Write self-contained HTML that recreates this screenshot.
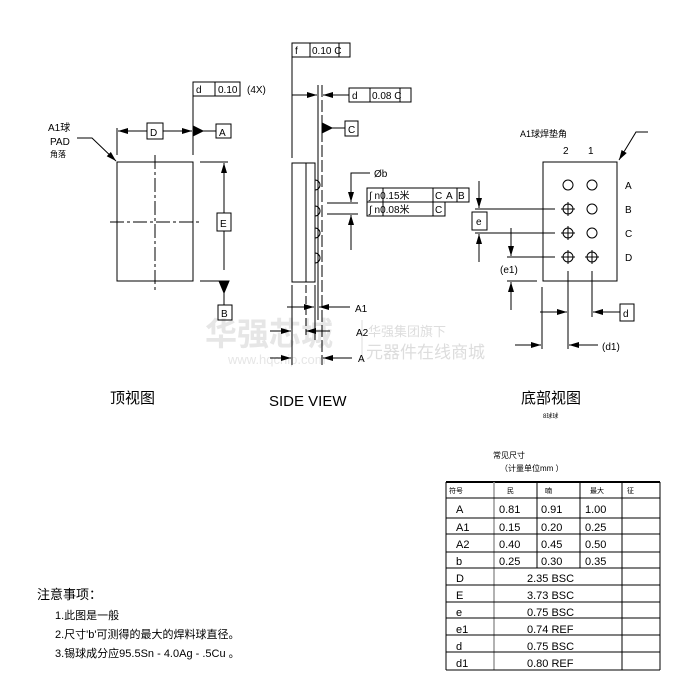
<!DOCTYPE html>
<html><head><meta charset="utf-8"><style>
body{margin:0;background:#fff;}
svg{display:block;font-family:"Liberation Sans","Noto Sans CJK SC",sans-serif;}
</style></head><body>
<svg width="693" height="685" viewBox="0 0 693 685" xmlns="http://www.w3.org/2000/svg">
<defs>
<marker id="ar" viewBox="0 0 10 6" refX="10" refY="3" markerWidth="10" markerHeight="6" orient="auto" markerUnits="userSpaceOnUse"><path d="M0,0L10,3L0,6z" fill="#000"/></marker>
</defs>
<g stroke="#000" stroke-width="1" fill="none">
<!-- watermark -->
<text x="205" y="345" font-size="32" font-weight="bold" fill="#e6e6e6" stroke="none">华强芯城</text>
<text x="228" y="364" font-size="13" fill="#e6e6e6" stroke="none">www.hqchip.com</text>
<line x1="362" y1="320" x2="362" y2="362" stroke="#ddd"/>
<text x="368" y="336" font-size="13" fill="#ddd" stroke="none">华强集团旗下</text>
<text x="366" y="358" font-size="17" fill="#ddd" stroke="none">元器件在线商城</text>

<!-- TOP VIEW -->
<rect x="117" y="162" width="76" height="119"/>
<line x1="155" y1="155" x2="155" y2="290" stroke-dasharray="14,3,3,3"/>
<line x1="110" y1="222" x2="200" y2="222" stroke-dasharray="14,3,3,3"/>
<line x1="117" y1="128" x2="117" y2="155"/>
<line x1="193" y1="82" x2="193" y2="155"/>
<line x1="147" y1="131" x2="118" y2="131" marker-end="url(#ar)"/>
<line x1="163" y1="131" x2="192" y2="131" marker-end="url(#ar)"/>
<rect x="147" y="123" width="16" height="16"/>
<path d="M193,126L203,131L193,136z" fill="#000"/>
<line x1="203" y1="131" x2="216" y2="131"/>
<rect x="216" y="124" width="15" height="14"/>
<rect x="193" y="82" width="47" height="14"/><line x1="215" y1="82" x2="215" y2="96"/>
<line x1="200" y1="162" x2="228" y2="162"/><line x1="200" y1="281" x2="228" y2="281"/>
<line x1="224" y1="213" x2="224" y2="163" marker-end="url(#ar)"/>
<line x1="224" y1="231" x2="224" y2="270"/>
<path d="M219,281L229,281L224,293z" fill="#000"/>
<line x1="224" y1="281" x2="224" y2="305"/>
<rect x="217" y="213" width="14" height="18"/>
<rect x="218" y="305" width="14" height="15"/>
<polyline points="77,138 92,138 116,161" marker-end="url(#ar)"/>

<!-- SIDE VIEW -->
<rect x="292" y="163" width="23" height="119"/>
<line x1="306" y1="163" x2="306" y2="282"/>
<path d="M315,180a5,5 0 0 1 0,10M315,206a5,5 0 0 1 0,10M315,228a5,5 0 0 1 0,10M315,253a5,5 0 0 1 0,10"/>
<line x1="292" y1="44" x2="292" y2="158"/>
<line x1="318" y1="85" x2="318" y2="320"/>
<line x1="322" y1="85" x2="322" y2="365" stroke-dasharray="12,3"/>
<rect x="292" y="43" width="58" height="14"/><line x1="310" y1="43" x2="310" y2="57"/><line x1="339" y1="43" x2="339" y2="57"/>
<rect x="349" y="88" width="62" height="14"/><line x1="370" y1="88" x2="370" y2="102"/><line x1="400" y1="88" x2="400" y2="102"/>
<line x1="292" y1="95" x2="317" y2="95" marker-end="url(#ar)"/>
<line x1="349" y1="95" x2="323" y2="95" marker-end="url(#ar)"/>
<path d="M322,123L332,128L322,133z" fill="#000"/>
<line x1="332" y1="128" x2="345" y2="128"/>
<rect x="345" y="121" width="13" height="15"/>
<polyline points="370,173 351,173 351,202" marker-end="url(#ar)"/>
<line x1="327" y1="203" x2="358" y2="203"/><line x1="327" y1="214" x2="358" y2="214"/>
<line x1="351" y1="250" x2="351" y2="215" marker-end="url(#ar)"/>
<rect x="367" y="188" width="102" height="14"/><rect x="367" y="202" width="78" height="14"/>
<line x1="383" y1="188" x2="383" y2="216"/><line x1="433" y1="188" x2="433" y2="216"/><line x1="457" y1="188" x2="457" y2="202"/>
<line x1="292" y1="285" x2="292" y2="365"/><line x1="306" y1="285" x2="306" y2="335" stroke-dasharray="8,3"/><line x1="315" y1="285" x2="315" y2="340"/>
<line x1="287" y1="307" x2="314" y2="307" marker-end="url(#ar)"/>
<line x1="350" y1="307" x2="319" y2="307" marker-end="url(#ar)"/>
<line x1="270" y1="331" x2="291" y2="331" marker-end="url(#ar)"/>
<line x1="330" y1="331" x2="306" y2="331" marker-end="url(#ar)"/>
<line x1="270" y1="358" x2="291" y2="358" marker-end="url(#ar)"/>
<line x1="352" y1="358" x2="323" y2="358" marker-end="url(#ar)"/>

<!-- BOTTOM VIEW -->
<rect x="543" y="162" width="74" height="119"/>
<circle cx="568" cy="185" r="5"/><circle cx="592" cy="185" r="5"/>
<circle cx="568" cy="209" r="5"/><circle cx="592" cy="209" r="5"/>
<circle cx="568" cy="233" r="5"/><circle cx="592" cy="233" r="5"/>
<circle cx="568" cy="257" r="5"/><circle cx="592" cy="257" r="5"/>
<path d="M561,209h14M568,202v14M561,233h14M568,226v14M561,257h14M568,250v14M585,257h14M592,250v14"/>
<polyline points="648,132 636,132 619,160" marker-end="url(#ar)"/>
<line x1="475" y1="209" x2="555" y2="209"/><line x1="475" y1="233" x2="555" y2="233"/>
<line x1="479" y1="181" x2="479" y2="208" marker-end="url(#ar)"/>
<line x1="479" y1="262" x2="479" y2="234" marker-end="url(#ar)"/>
<rect x="472" y="212" width="15" height="18" fill="#fff"/>
<line x1="507" y1="257" x2="555" y2="257"/><line x1="507" y1="281" x2="537" y2="281"/>
<line x1="511" y1="228" x2="511" y2="256" marker-end="url(#ar)"/>
<line x1="511" y1="310" x2="511" y2="282" marker-end="url(#ar)"/>
<line x1="568" y1="271" x2="568" y2="349"/><line x1="592" y1="271" x2="592" y2="317"/><line x1="542" y1="287" x2="542" y2="349"/>
<line x1="540" y1="312" x2="567" y2="312" marker-end="url(#ar)"/>
<line x1="620" y1="312" x2="593" y2="312" marker-end="url(#ar)"/>
<rect x="620" y="304" width="14" height="17"/>
<line x1="515" y1="345" x2="541" y2="345" marker-end="url(#ar)"/>
<line x1="598" y1="345" x2="569" y2="345" marker-end="url(#ar)"/>

<!-- TABLE -->
<line x1="446" y1="482" x2="660" y2="482" stroke-width="2"/>
<line x1="446" y1="482" x2="446" y2="670"/><line x1="660" y1="482" x2="660" y2="670"/>
<line x1="494" y1="482" x2="494" y2="670" stroke="#999" stroke-width="1.5"/>
<line x1="537" y1="482" x2="537" y2="568"/><line x1="580" y1="482" x2="580" y2="568"/>
<line x1="622" y1="482" x2="622" y2="670"/>
<path d="M446,498H660M446,518H660M446,534H660M446,552H660M446,568H660M446,585H660M446,602H660M446,618H660M446,635H660M446,652H660M446,670H660"/>
</g>

<g font-size="10" fill="#000">
<text x="48" y="131">A1球</text><text x="50" y="145">PAD</text><text x="50" y="157" font-size="8">角落</text>
<text x="150" y="136">D</text><text x="219" y="136">A</text>
<text x="196" y="93">d</text><text x="218" y="93">0.10</text><text x="247" y="93">(4X)</text>
<text x="220" y="227">E</text><text x="221" y="317">B</text>
<text x="295" y="54">f</text><text x="312" y="54">0.10 C</text>
<text x="352" y="99">d</text><text x="372" y="99">0.08 C</text>
<text x="348" y="133">C</text>
<text x="374" y="177">Øb</text>
<text x="369" y="199">∫ n0.15米</text><text x="435" y="199">C</text><text x="446" y="199">A</text><text x="458" y="199">B</text>
<text x="369" y="213">∫ n0.08米</text><text x="435" y="213">C</text>
<text x="355" y="312">A1</text><text x="356" y="336">A2</text><text x="358" y="362">A</text>
<text x="520" y="137" font-size="9">A1球焊垫角</text>
<text x="563" y="154">2</text><text x="588" y="154">1</text>
<text x="625" y="189">A</text><text x="625" y="213">B</text><text x="625" y="237">C</text><text x="625" y="261">D</text>
<text x="476" y="225">e</text><text x="500" y="273">(e1)</text>
<text x="623" y="317">d</text><text x="602" y="350">(d1)</text>
<text x="110" y="403" font-size="15">顶视图</text>
<text x="269" y="406" font-size="15">SIDE VIEW</text>
<text x="521" y="403" font-size="15">底部视图</text>
<text x="543" y="418" font-size="6">8球球</text>
<text x="493" y="458" font-size="8">常见尺寸</text>
<text x="500" y="471" font-size="8">（计量单位mm ）</text>
<g font-size="7"><text x="449" y="493">符号</text><text x="507" y="493">民</text><text x="545" y="493">喃</text><text x="590" y="493">最大</text><text x="627" y="493">征</text></g>
<g font-size="11">
<text x="456" y="513">A</text><text x="499" y="513">0.81</text><text x="541" y="513">0.91</text><text x="585" y="513">1.00</text>
<text x="456" y="531">A1</text><text x="499" y="531">0.15</text><text x="541" y="531">0.20</text><text x="585" y="531">0.25</text>
<text x="456" y="548">A2</text><text x="499" y="548">0.40</text><text x="541" y="548">0.45</text><text x="585" y="548">0.50</text>
<text x="456" y="565">b</text><text x="499" y="565">0.25</text><text x="541" y="565">0.30</text><text x="585" y="565">0.35</text>
<text x="456" y="582">D</text><text x="527" y="582">2.35 BSC</text>
<text x="456" y="599">E</text><text x="527" y="599">3.73 BSC</text>
<text x="456" y="616">e</text><text x="527" y="616">0.75 BSC</text>
<text x="456" y="633">e1</text><text x="527" y="633">0.74 REF</text>
<text x="456" y="650">d</text><text x="527" y="650">0.75 BSC</text>
<text x="456" y="667">d1</text><text x="527" y="667">0.80 REF</text>
</g>
<text x="37" y="599" font-size="13">注意事项：</text>
<text x="55" y="619" font-size="11">1.此图是一般</text>
<text x="55" y="638" font-size="11">2.尺寸'b'可测得的最大的焊料球直径。</text>
<text x="55" y="657" font-size="11">3.锡球成分应95.5Sn - 4.0Ag - .5Cu 。</text>
</g>
</svg>
</body></html>
